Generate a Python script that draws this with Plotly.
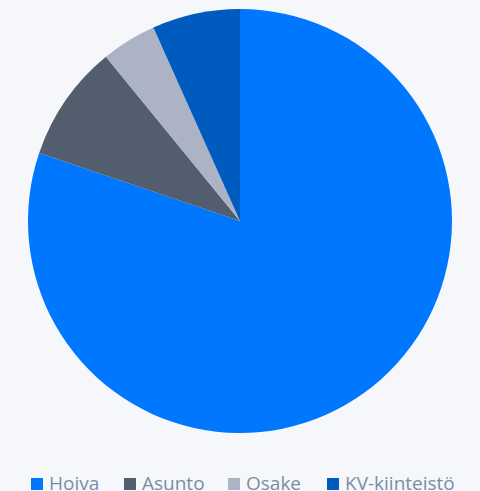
import plotly.graph_objects as go

# Portfolio split by segment (%)
segments = ["Hoiva", "Asunto", "Osake", "KV-kiinteistö"]
shares = [80.2, 8.9, 4.2, 6.7]
colors = ["#0077ff", "#525e6e", "#abb3c4", "#005bbf"]

W, H = 480, 491
cx, cy, r = 240, 221, 212

fig = go.Figure(
    go.Pie(
        labels=segments,
        values=shares,
        sort=False,
        direction="clockwise",
        rotation=0,
        marker=dict(colors=colors, line=dict(width=0)),
        textinfo="none",
        hoverinfo="label+percent",
        showlegend=False,
        domain=dict(
            x=[(cx - r) / W, (cx + r) / W],
            y=[1 - (cy + r) / H, 1 - (cy - r) / H],
        ),
    )
)

# Compact horizontal legend under the pie: swatch + label per segment
legend_left = [31, 124, 228, 327]   # swatch left edge, px
swatch = 12
label_gap = 4
legend_mid = 484                    # vertical centre of the swatches, px

for name, col, x0 in zip(segments, colors, legend_left):
    fig.add_shape(
        type="rect",
        xref="paper", yref="paper",
        x0=x0 / W, x1=(x0 + swatch) / W,
        y0=1 - (legend_mid + swatch / 2) / H,
        y1=1 - (legend_mid - swatch / 2) / H,
        fillcolor=col, line=dict(width=0),
    )
    fig.add_annotation(
        text=name,
        xref="paper", yref="paper",
        x=(x0 + swatch + label_gap) / W,
        y=1 - (legend_mid - 1.5) / H,
        xanchor="left", yanchor="middle",
        showarrow=False,
        font=dict(family="Open Sans, sans-serif", size=19, color="#7b8ea3"),
    )

fig.update_layout(
    width=W,
    height=H,
    margin=dict(l=0, r=0, t=0, b=0),
    paper_bgcolor="#f5f7fb",
    plot_bgcolor="#f5f7fb",
    showlegend=False,
)

fig.write_html("out.html")
